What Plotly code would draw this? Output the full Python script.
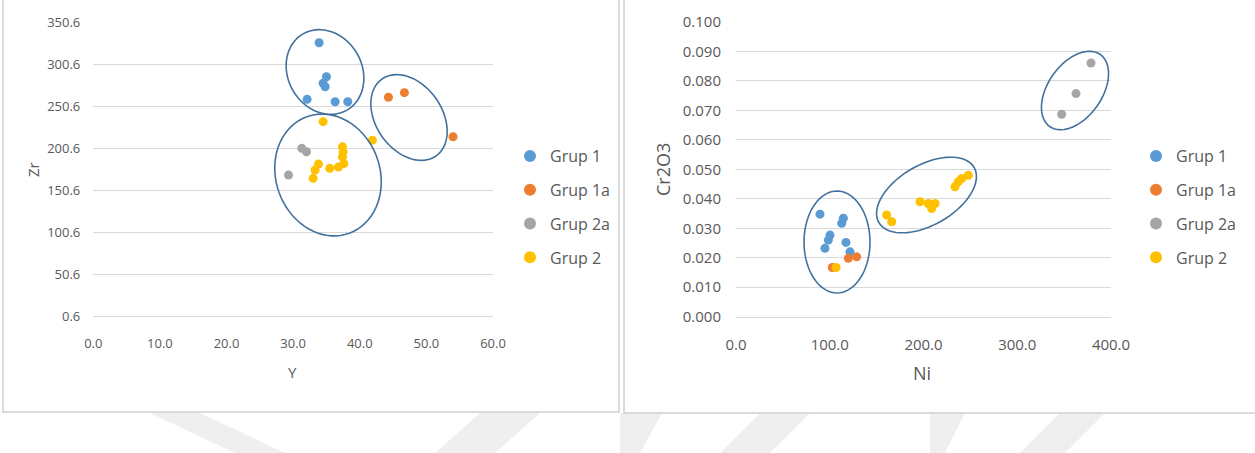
import numpy as np
import plotly.graph_objects as go

# ---------------- data ----------------
series_names = ["Grup 1", "Grup 1a", "Grup 2a", "Grup 2"]

# left chart: Y vs Zr
g1_y = [33.9, 35.0, 34.5, 34.8, 32.1, 36.3, 38.2]
g1_zr = [326.0, 285.5, 277.7, 273.6, 258.6, 255.7, 255.7]
g1a_y = [44.3, 46.7, 54.0]
g1a_zr = [261.0, 266.5, 214.0]
g2a_y = [31.3, 32.0, 29.3]
g2a_zr = [200.2, 196.2, 168.5]
g2_y = [34.5, 41.9, 37.4, 37.5, 37.4, 37.6, 36.8, 33.8, 33.3, 33.0, 35.5]
g2_zr = [232.0, 210.0, 202.0, 196.0, 190.0, 182.0, 178.0, 181.5, 174.4, 164.5, 176.4]

# right chart: Ni vs Cr2O3
g1_ni = [89.6, 114.5, 112.7, 100.3, 98.5, 94.9, 117.3, 121.6]
g1_cr = [0.0348, 0.0334, 0.0317, 0.0277, 0.0260, 0.0232, 0.0252, 0.0220]
g1a_ni = [119.8, 128.7, 102.7]
g1a_cr = [0.0198, 0.0203, 0.0167]
g2a_ni = [378.7, 362.7, 347.4]
g2a_cr = [0.0861, 0.0757, 0.0687]
g2_ni = [106.7, 160.7, 166.1, 196.3, 205.1, 208.7, 212.3, 233.6, 237.1, 240.7, 247.8]
g2_cr = [0.0167, 0.0345, 0.0322, 0.0390, 0.0384, 0.0367, 0.0384, 0.0441, 0.0458, 0.0469, 0.0480]

left_yticks = [0.6, 50.6, 100.6, 150.6, 200.6, 250.6, 300.6, 350.6]
left_xticks = [0, 10, 20, 30, 40, 50, 60]
right_yticks = [0.0, 0.01, 0.02, 0.03, 0.04, 0.05, 0.06, 0.07, 0.08, 0.09, 0.10]
right_xticks = [0, 100, 200, 300, 400]

# ---------------- style ----------------
W, H = 1255, 453
colors = ["#5B9BD5", "#ED7D31", "#A5A5A5", "#FFC000"]
FONT = "Open Sans, Noto Sans, sans-serif"
TXT = "#595959"
GRID = "#D9D9D9"
ELL = "#41719C"

L_BOX = (93.3, 493.0, 22.0, 316.0)   # x0, x1, ytop, ybottom (pixels)
R_BOX = (736.0, 1111.0, 21.7, 316.7)
L_XR, L_YR = [0, 60], [0.6, 350.65]
R_XR, R_YR = [0, 400], [0.0, 0.1001]


def dom(box):
    x0, x1, yt, yb = box
    return [x0 / W, x1 / W], [1 - yb / H, 1 - yt / H]


def px2data(px, py, box, xr, yr):
    x0, x1, yt, yb = box
    x = xr[0] + (px - x0) / (x1 - x0) * (xr[1] - xr[0])
    y = yr[0] + (yb - py) / (yb - yt) * (yr[1] - yr[0])
    return x, y


def ellipse_path(cx, cy, a, b, theta, box, xr, yr):
    th = np.radians(theta)
    pts = []
    for t in np.linspace(0, 2 * np.pi, 73):
        ex = a * np.cos(t) * np.cos(th) - b * np.sin(t) * np.sin(th)
        ey = a * np.cos(t) * np.sin(th) + b * np.sin(t) * np.cos(th)
        pts.append(px2data(cx + ex, cy - ey, box, xr, yr))
    return "M " + " L ".join(f"{x:.5f},{y:.6f}" for x, y in pts) + " Z"


fig = go.Figure()

left_x = [g1_y, g1a_y, g2a_y, g2_y]
left_y = [g1_zr, g1a_zr, g2a_zr, g2_zr]
right_x = [g1_ni, g1a_ni, g2a_ni, g2_ni]
right_y = [g1_cr, g1a_cr, g2a_cr, g2_cr]

for i, name in enumerate(series_names):
    fig.add_trace(go.Scatter(
        x=left_x[i], y=left_y[i], mode="markers", name=name,
        marker=dict(color=colors[i], size=9), legendgroup=f"L{i}",
        xaxis="x", yaxis="y", legend="legend"))
for i, name in enumerate(series_names):
    fig.add_trace(go.Scatter(
        x=right_x[i], y=right_y[i], mode="markers", name=name,
        marker=dict(color=colors[i], size=9), legendgroup=f"R{i}",
        xaxis="x2", yaxis="y2", legend="legend2"))

lxd, lyd = dom(L_BOX)
rxd, ryd = dom(R_BOX)

axis_common = dict(showgrid=False, zeroline=False, ticks="", color=TXT,
                   showline=True, linecolor=GRID, linewidth=1, automargin=False)

fig.update_layout(
    width=W, height=H, margin=dict(l=0, r=0, t=0, b=0, autoexpand=False),
    paper_bgcolor="white", plot_bgcolor="white",
    font=dict(family=FONT, color=TXT),
    xaxis=dict(domain=lxd, range=L_XR, tickvals=left_xticks, tickformat=".1f",
               tickfont=dict(size=13, color=TXT), ticklabelstandoff=15,
               anchor="y", **axis_common),
    yaxis=dict(domain=lyd, range=L_YR, tickvals=left_yticks, tickformat=".1f",
               tickfont=dict(size=13, color=TXT), ticklabelstandoff=12,
               showgrid=True, gridcolor=GRID, gridwidth=1, zeroline=False,
               ticks="", showline=False, anchor="x", automargin=False),
    xaxis2=dict(domain=rxd, range=R_XR, tickvals=right_xticks, tickformat=".1f",
                tickfont=dict(size=15, color=TXT), ticklabelstandoff=14,
                anchor="y2", **axis_common),
    yaxis2=dict(domain=ryd, range=R_YR, tickvals=right_yticks, tickformat=".3f",
                tickfont=dict(size=15, color=TXT), ticklabelstandoff=14,
                showgrid=True, gridcolor=GRID, gridwidth=1, zeroline=False,
                ticks="", showline=False, anchor="x2", automargin=False),
    legend=dict(x=510 / W, xanchor="left", y=1 - 139 / H, yanchor="top",
                font=dict(size=16, color=TXT, family=FONT), tracegroupgap=10,
                bgcolor="rgba(0,0,0,0)", itemsizing="constant"),
    legend2=dict(x=1136 / W, xanchor="left", y=1 - 139 / H, yanchor="top",
                 font=dict(size=16, color=TXT, family=FONT), tracegroupgap=10,
                 bgcolor="rgba(0,0,0,0)", itemsizing="constant"),
    showlegend=True,
)

# axis titles
ann = [
    dict(text="Zr", x=33 / W, y=1 - 170 / H, textangle=-90, size=15),
    dict(text="Y", x=292 / W, y=1 - 372 / H, textangle=0, size=15),
    dict(text="Cr2O3", x=663 / W, y=1 - 170 / H, textangle=-90, size=18),
    dict(text="Ni", x=922 / W, y=1 - 373 / H, textangle=0, size=18),
]
for a in ann:
    fig.add_annotation(text=a["text"], x=a["x"], y=a["y"], xref="paper", yref="paper",
                       showarrow=False, textangle=a["textangle"],
                       font=dict(size=a["size"], color=TXT, family=FONT),
                       xanchor="center", yanchor="middle")

shapes = []
# background watermark stripes (bottom band)
stripe_color = "#EFEFEF"
stripes = [
    [(150, 413), (200, 413), (285, 453), (235, 453)],
    [(480, 413), (540, 413), (495, 453), (435, 453)],
    [(620, 413), (662, 413), (640, 453), (620, 453)],
    [(760, 413), (810, 413), (770, 453), (720, 453)],
    [(930, 413), (965, 413), (945, 453), (930, 453)],
    [(1060, 413), (1105, 413), (1065, 453), (1020, 453)],
]
for poly in stripes:
    p = "M " + " L ".join(f"{x / W:.5f},{1 - y / H:.5f}" for x, y in poly) + " Z"
    shapes.append(dict(type="path", xref="paper", yref="paper", path=p,
                       fillcolor=stripe_color, line=dict(width=0), layer="below"))

# panel frames
shapes.append(dict(type="rect", xref="paper", yref="paper",
                   x0=3 / W, x1=619 / W, y0=1 - 412 / H, y1=1.01,
                   line=dict(color="#D0D0D0", width=1.5), fillcolor="white", layer="below"))
shapes.append(dict(type="rect", xref="paper", yref="paper",
                   x0=624 / W, x1=1262 / W, y0=1 - 413 / H, y1=1.01,
                   line=dict(color="#D0D0D0", width=1.5), fillcolor="white", layer="below"))

# hand-drawn group ellipses (pixel-space geometry)
left_ell = [(325, 72, 44, 37, -60), (409, 117.5, 47, 33, -55), (328, 175, 62, 52, -70)]
right_ell = [(837, 242, 51, 33, 90), (926.5, 195, 55, 30, 30), (1075, 90.5, 44, 27, 55)]
for e in left_ell:
    shapes.append(dict(type="path", xref="x", yref="y",
                       path=ellipse_path(*e, L_BOX, L_XR, L_YR),
                       line=dict(color=ELL, width=1.6), layer="above"))
for e in right_ell:
    shapes.append(dict(type="path", xref="x2", yref="y2",
                       path=ellipse_path(*e, R_BOX, R_XR, R_YR),
                       line=dict(color=ELL, width=1.6), layer="above"))

fig.update_layout(shapes=shapes)

fig.write_html("out.html")
